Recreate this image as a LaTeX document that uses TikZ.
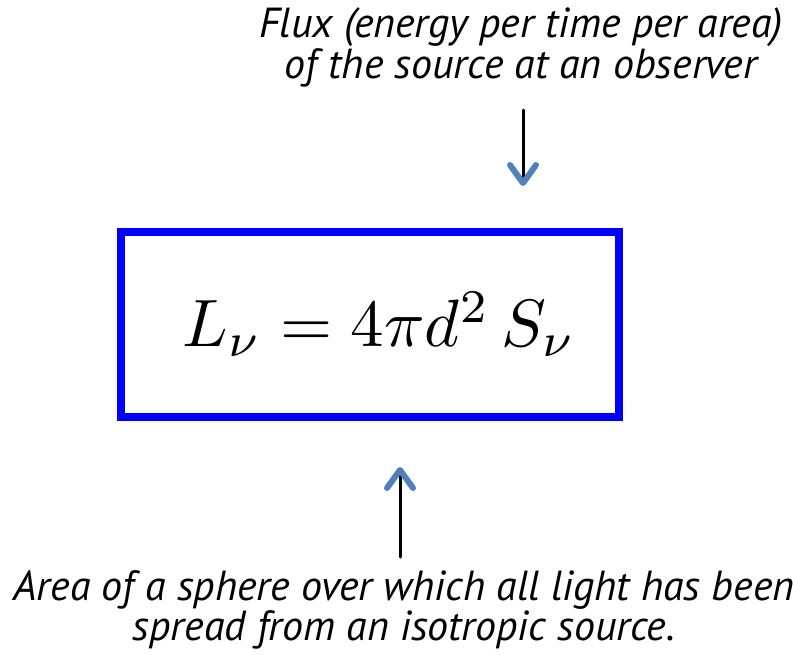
\documentclass[tikz,border=0pt]{standalone}
\usepackage{graphicx}
\usepackage{fontspec}
\setsansfont{PT Sans}
\usetikzlibrary{arrows.meta}
\definecolor{boxblue}{RGB}{0,0,255}
\definecolor{tipblue}{RGB}{79,129,189}
\begin{document}
\begin{tikzpicture}[x=1pt,y=-1pt, line cap=round, line join=round]
	\tikzset{note/.style={font=\fontsize{42}{35}\selectfont\sffamily\itshape, align=center, inner sep=0pt},
		pointer/.style={black, line width=3pt, -{Straight Barb[color=tipblue, length=18pt, width=26pt, line width=6pt, round]}}}
	\useasboundingbox (0,0) rectangle (793,654);
	\node[draw=boxblue, line width=8pt, line join=miter, minimum width=498pt, minimum height=185pt, inner sep=0pt] (law) at (370,324.5)
		{\hspace*{18pt}\scalebox{6.7}{$L_\nu = 4\pi d^2\,S_\nu$}};
	\node[note, anchor=base] (flux) at (521,78) {Flux (energy per time per area)\\of the source at an observer};
	\node[note, anchor=base] (area) at (404,640) {Area of a sphere over which all light has been\\spread from an isotropic source.};
	\coordinate (fluxtail) at (523,110); \coordinate (fluxhead) at (523,186);
	\coordinate (areatail) at (400,557); \coordinate (areahead) at (400,467);
	\draw[pointer] (fluxtail)--(fluxhead);
	\draw[pointer] (areatail)--(areahead);
\end{tikzpicture}
\end{document}
